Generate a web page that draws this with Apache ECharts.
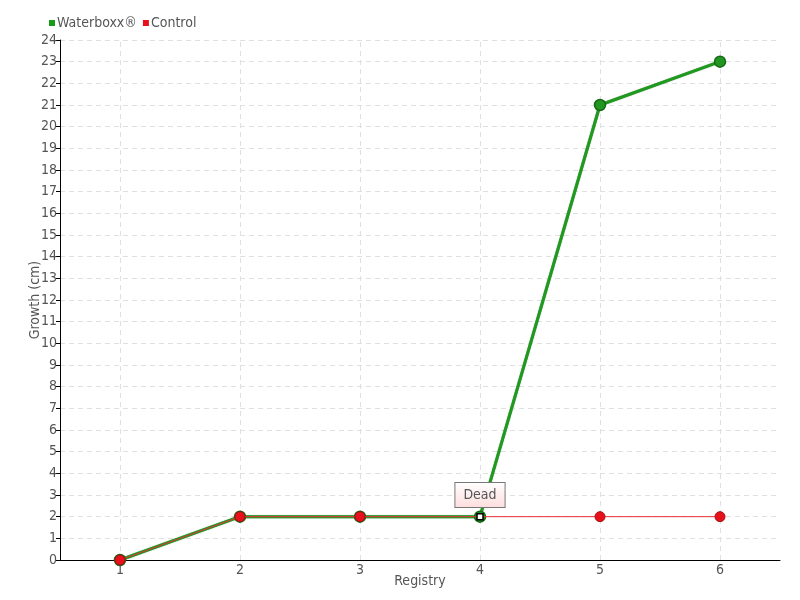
<!DOCTYPE html>
<html><head><meta charset="utf-8">
<script src="https://cdn.jsdelivr.net/npm/echarts@6/dist/echarts.min.js"></script>
<style>html,body{margin:0;padding:0;background:#fff}#c{width:800px;height:600px}</style>
</head><body><div id="c"></div>
<script>
const categories = ['1','2','3','4','5','6'];
const waterboxx = [0, 2, 2, 2, 21, 23];
const control = [0, 2, 2, 2, 2, 2];
const deadIndex = 3;
const deadLabel = 'Dead';
const FONT = "'DejaVu Sans Condensed','Liberation Sans Narrow',sans-serif";

const controlData = control.map((v, i) => i === deadIndex ? {
  value: v,
  symbol: 'rect', symbolSize: 6,
  itemStyle: { color: '#fff', borderColor: '#000', borderWidth: 1.5 },
  label: {
    show: true, position: 'top', distance: 6, formatter: deadLabel,
    fontFamily: FONT, fontSize: 14, color: '#555',
    backgroundColor: { type: 'linear', x: 0, y: 0, x2: 0, y2: 1,
      colorStops: [{ offset: 0, color: '#fff' }, { offset: 1, color: '#fdd' }] },
    borderColor: '#777', borderWidth: 1, padding: [5, 8, 5, 8]
  }
} : v);

const chart = echarts.init(document.getElementById('c'));
chart.setOption({
  animation: false,
  textStyle: { fontFamily: FONT },
  legend: {
    left: 44, top: 11, itemWidth: 6, itemHeight: 6, itemGap: 6,
    icon: 'rect',
    textStyle: { fontFamily: FONT, fontSize: 14, color: '#555', padding: [0, 0, 0, -3] },
    data: [{ name: 'Waterboxx®', itemStyle: { color: '#1a9a1a', borderWidth: 0 } },
           { name: 'Control', itemStyle: { color: '#e8101a', borderWidth: 0 } }]
  },
  grid: { left: 60, right: 20, top: 40, bottom: 40 },
  xAxis: {
    type: 'category', data: categories, boundaryGap: true,
    name: 'Registry', nameLocation: 'middle', nameGap: 14, nameMoveOverlap: false,
    nameTextStyle: { fontFamily: FONT, fontSize: 14, color: '#555' },
    axisLine: { lineStyle: { color: '#000', width: 1 } },
    axisTick: { alignWithLabel: true, length: 4, lineStyle: { color: '#000' } },
    axisLabel: { fontFamily: FONT, fontSize: 14, color: '#555', margin: 3 },
    splitLine: { show: false }
  },
  yAxis: {
    type: 'value', min: 0, max: 24, interval: 1,
    name: 'Growth (cm)', nameLocation: 'middle', nameGap: 18, nameMoveOverlap: false,
    nameTextStyle: { fontFamily: FONT, fontSize: 14, color: '#555' },
    axisLine: { show: true, lineStyle: { color: '#000', width: 1 } },
    axisTick: { show: true, length: 4, lineStyle: { color: '#000' } },
    axisLabel: { fontFamily: FONT, fontSize: 14, color: '#555', margin: 3 },
    splitLine: { show: true, lineStyle: { color: '#e0e0e0', type: [5, 4] } }
  },
  series: [
    {
      name: 'grid-x', type: 'line', data: [], z: 0, silent: true,
      markLine: {
        silent: true, symbol: 'none', label: { show: false }, z: 0,
        lineStyle: { color: '#e0e0e0', type: [5, 4], width: 1 },
        data: categories.map(c => ({ xAxis: c }))
      }
    },
    {
      name: 'Waterboxx®', type: 'line', data: waterboxx, z: 2,
      symbol: 'circle', symbolSize: 11,
      lineStyle: { color: '#1f9a1f', width: 3, shadowColor: 'rgba(0,80,0,0.6)', shadowBlur: 1 },
      itemStyle: { color: '#219621', borderColor: '#176917', borderWidth: 1.5 }
    },
    {
      name: 'Control', type: 'line', data: controlData, z: 3,
      symbol: 'circle', symbolSize: 10,
      lineStyle: { color: '#e8303a', width: 1 },
      itemStyle: { color: '#e8101a', borderColor: '#a01010', borderWidth: 1 }
    }
  ]
});
</script></body></html>
